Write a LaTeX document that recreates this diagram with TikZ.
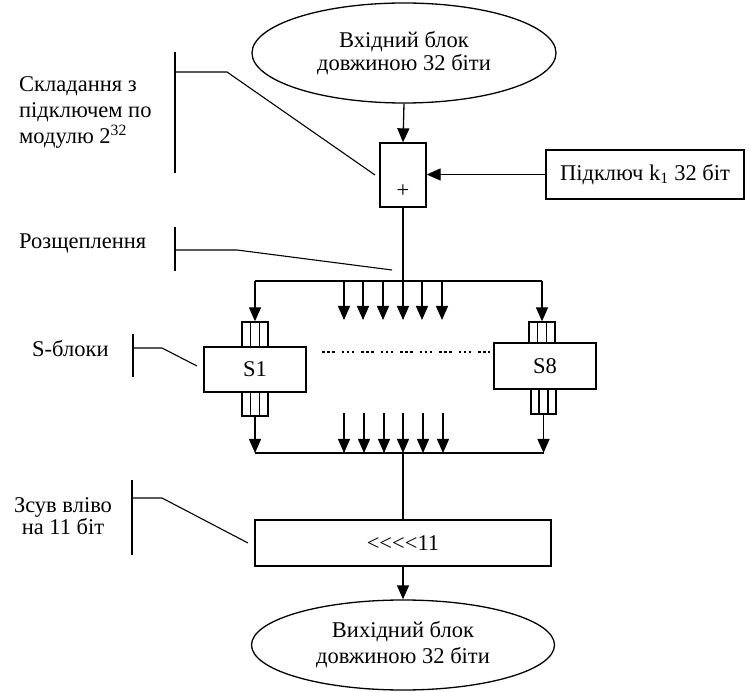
\documentclass[tikz,border=0pt]{standalone}
\usepackage{fontspec}
\setmainfont{Liberation Serif}
\usetikzlibrary{shapes.geometric,arrows.meta,calc}
\tikzset{
  ln/.style={line width=1.3pt},
  arr/.style={ln,-{Triangle[length=14pt,width=12pt]}},
  box/.style={draw,ln,rectangle,inner sep=0pt},
  oval/.style={draw,ln,ellipse,inner sep=0pt,align=center},
  txt/.style={inner sep=0pt,font=\fontsize{22.5}{26}\selectfont},
  lead/.style={line width=1.1pt}
}
\newcommand\celldividers[1]{%
  \draw[ln] ($(#1.north west)!0.3333!(#1.north east)$) -- ($(#1.south west)!0.3333!(#1.south east)$);
  \draw[ln] ($(#1.north west)!0.6667!(#1.north east)$) -- ($(#1.south west)!0.6667!(#1.south east)$);}
\begin{document}
\begin{tikzpicture}[x=1pt,y=-1pt]
\useasboundingbox (0,0) rectangle (750,692);
% main blocks
\node[oval,txt,minimum width=304pt,minimum height=100pt] (in) at (404,53) {\raisebox{-3pt}{\shortstack{Вхідний блок\\довжиною 32 біти}}};
\node[box,minimum width=46pt,minimum height=64pt] (add) at (403,175) {};
\node[txt] (plus) at (403,191) {+};
\node[box,txt,minimum width=198pt,minimum height=49pt] (key) at (645,174.5) {Підключ k\textsubscript{1} 32 біт};
\node[box,txt,minimum width=102pt,minimum height=45pt] (s1) at (255,369.5) {S1};
\node[box,minimum width=26pt,minimum height=25pt] (s1t) at (255,334.5) {};
\node[box,minimum width=26pt,minimum height=24pt] (s1b) at (255,404) {};
\node[box,txt,minimum width=102pt,minimum height=46pt] (s8) at (545,366) {S8};
\node[box,minimum width=26pt,minimum height=21pt] (s8t) at (542,332.5) {};
\node[box,minimum width=25pt,minimum height=25pt] (s8b) at (543.5,401.5) {};
\celldividers{s1t}
\celldividers{s1b}
\celldividers{s8t}
\celldividers{s8b}
\node[box,txt,minimum width=296pt,minimum height=46pt] (shift) at (403,543) {{<}{<}{<}{<}11};
\node[oval,txt,minimum width=303pt,minimum height=90pt] (out) at (403,645) {Вихідний блок\\довжиною 32 біти};
% coordinates
\coordinate (sl) at (255,281);
\coordinate (sr) at (542,281);
\coordinate (bl) at (255,453);
\coordinate (br) at (543.5,453);
\coordinate (bc) at (403,453);
% connectors
\draw[arr] (in.south) -- (add.north);
\draw[arr] (key.west) -- (key.west -| add.east);
\draw[arr] (add.south) -- (403,320);
\draw[ln] (sl) -- (sr);
\draw[arr] (sl) -- (s1t.north);
\draw[arr] (sr) -- (s8t.north);
\foreach \x in {344,363,383,422,442} \draw[arr] (\x,281) -- (\x,320);
\draw[arr] (s1b.south) -- (bl);
\draw[arr] (s8b.south) -- (br);
\draw[ln] (bl) -- (br);
\foreach \x in {344,364,384,403,423,443} \draw[arr] (\x,413) -- (\x,453);
\draw[ln] (bc) -- (shift.north);
\draw[arr] (shift.south) -- (out.north);
\draw[lead,dash pattern=on 2.5pt off 2.5pt on 2.5pt off 2.5pt on 2.5pt off 7pt] (322,352) -- (490,352);
% annotations
\node[txt,anchor=west,align=left] (a1) at (19,112) {Складання з\\підключем по\\модулю 2\textsuperscript{32}};
\draw[lead] (175,52) -- (175,173);
\draw[lead] (175,72) -- (227,72) -- (375,175);
\node[txt,anchor=west] (a2) at (19,243) {Розщеплення};
\draw[lead] (175,227) -- (175,271);
\draw[lead] (175,250) -- (237,250) -- (392,270);
\node[txt,anchor=west] (a3) at (32,349) {S-блоки};
\draw[lead] (133,334) -- (133,377);
\draw[lead] (133,348) -- (162,348) -- (197,366);
\node[txt,align=center,font=\fontsize{22.5}{22}\selectfont] (a4) at (63,516) {Зсув вліво\\на 11 біт};
\draw[lead] (132,480) -- (132,555);
\draw[lead] (132,498) -- (162,498) -- (248,543);
\end{tikzpicture}
\end{document}
